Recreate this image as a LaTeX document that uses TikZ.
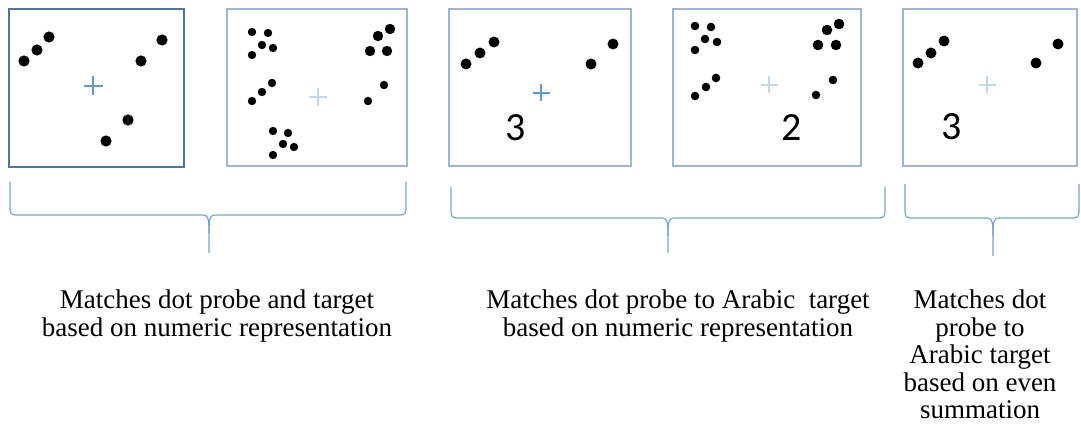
\documentclass[tikz,border=0pt]{standalone}
\usepackage{fontspec}
\setmainfont{Liberation Serif}
\newfontfamily\digitfont{Carlito}
\usetikzlibrary{calc}

\definecolor{framedark}{HTML}{4A76A8}
\definecolor{framelight}{HTML}{9DB6D4}
\definecolor{crossblue}{HTML}{5B9BD5}
\definecolor{crosspale}{HTML}{C3D7EE}
\definecolor{braceblue}{HTML}{74A6DA}

\tikzset{
  panel/.style={draw=framelight, line width=1.3pt},
  fixcross/.style={draw=crossblue, line width=1.2pt},
  bracepath/.style={draw=braceblue, line width=1.2pt},
  caption/.style={font=\fontsize{27}{27.5}\selectfont, align=center, inner sep=0pt, anchor=north},
  numeral/.style={font=\digitfont\fontsize{40}{40}\selectfont, inner sep=0pt}
}

% fixation cross: x, y, half size
\newcommand{\fixation}[4][]{\draw[fixcross,#1] (#2-#4,#3) -- (#2+#4,#3) (#2,#3-#4) -- (#2,#3+#4);}
% brace: left, right, tip x, top y, bar y, tip y
\newcommand{\groupbrace}[6]{%
  \draw[bracepath] (#1,#4) -- (#1,#5-9) .. controls (#1,#5-1) and (#1+1,#5) .. (#1+7,#5)
    -- (#3-6,#5) .. controls (#3-1,#5) and (#3,#5+3) .. (#3,#5+18) -- (#3,#6);
  \draw[bracepath] (#2,#4) -- (#2,#5-9) .. controls (#2,#5-1) and (#2-1,#5) .. (#2-7,#5)
    -- (#3+6,#5) .. controls (#3+1,#5) and (#3,#5+3) .. (#3,#5+18);}

\begin{document}
\begin{tikzpicture}[x=1pt,y=-1pt]
\useasboundingbox (0,0) rectangle (1081,430);

% dot probe 1
\draw[panel, draw=framedark, line width=1.8pt] (9,9) rectangle (184,167);
\fixation{93}{86}{9.5}
\foreach \x/\y in {24/61,37/50,49/37,162/40,141/61,128/120,106/141}
  \fill[black] (\x,\y) circle[radius=5.6pt];

% dot target 1
\draw[panel] (227,9) rectangle (407,166);
\fixation[draw=crosspale]{318}{97}{9}
\foreach \x/\y in {252/32,268/33,262/45,273/48,252/55,272/83,262/92,252/101,
                   273/131,288/133,283/144,294/147,273/155,384/85,368/101}
  \fill[black] (\x,\y) circle[radius=4.2pt];
\foreach \x/\y in {390/29,378/36,370/51,387/51}
  \fill[black] (\x,\y) circle[radius=5.2pt];

% dot probe 2
\draw[panel] (449,9) rectangle (631,166);
\fixation{541}{93}{8.5}
\foreach \x/\y in {466/64,480/53,494/42,591/64,613/44}
  \fill[black] (\x,\y) circle[radius=5.5pt];
\node[numeral] (three1) at (516,128) {3};

% arabic target 2
\draw[panel] (673,9) rectangle (861,166);
\fixation[draw=crosspale]{769}{85}{8.5}
\foreach \x/\y in {695/26,711/27,705/39,717/42,695/50,716/78,706/87,695/96,833/80,816/95}
  \fill[black] (\x,\y) circle[radius=4.3pt];
\foreach \x/\y in {839/24,827/30,818/45,836/45}
  \fill[black] (\x,\y) circle[radius=5.3pt];
\node[numeral] (two) at (792,128) {2};

% dot probe 3
\draw[panel] (903,9) rectangle (1077,166);
\fixation[draw=crosspale]{987}{85}{8.5}
\foreach \x/\y in {918/63,931/53,944/41,1036/63,1058/44}
  \fill[black] (\x,\y) circle[radius=5.5pt];
\node[numeral] (three2) at (952,127) {3};

% braces
\groupbrace{10}{406}{209}{182}{215}{253}
\groupbrace{451}{885}{668}{187}{218}{253}
\groupbrace{905}{1079}{993}{184}{218}{256}

\node[caption] (capA) at (217,290) {Matches dot probe and target\\based on numeric representation};
\node[caption] (capB) at (678,290) {Matches dot probe to Arabic\ \ target\\based on numeric representation};
\node[caption] (capC) at (980,290) {Matches dot\\probe to\\Arabic target\\based on even\\summation};

\end{tikzpicture}
\end{document}
